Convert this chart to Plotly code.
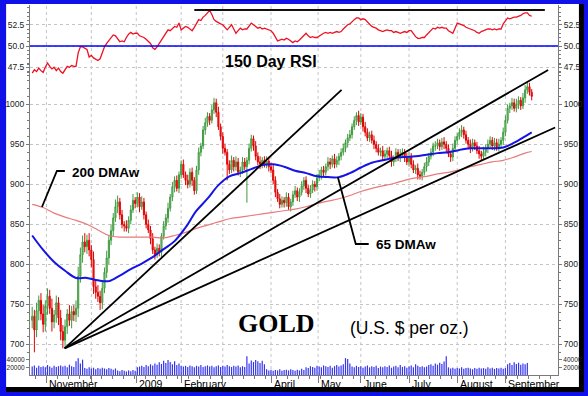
import plotly.graph_objects as go

# ---------------- data ----------------
closes = [735, 718, 742, 755, 738, 725, 748, 760, 745, 728,
          737, 752, 733, 716, 705, 722, 738, 730, 741, 737,
          745, 785, 812, 828, 822, 830, 818, 806, 772, 765,
          760, 752, 770, 790, 808, 830, 842, 858, 872, 878,
          862, 850, 848, 845, 855, 868, 880, 876, 884, 872,
          878, 862, 850, 843, 832, 818, 812, 820, 815, 835,
          848, 858, 870, 884, 897, 905, 895, 912, 925, 912,
          905, 900, 915, 905, 892, 918, 940, 948, 968, 977,
          985, 980, 993, 1002, 990, 972, 960, 945, 940, 925,
          918, 930, 922, 928, 915, 918, 928, 922, 930, 945,
          957, 948, 935, 928, 925, 930, 925, 929, 922, 918,
          905, 890, 882, 875, 880, 877, 884, 872, 878, 887,
          892, 884, 890, 898, 905, 895, 888, 893, 900, 897,
          908, 912, 918, 915, 922, 928, 925, 932, 925, 930,
          935, 940, 945, 952, 958, 962, 972, 980, 986, 978,
          984, 972, 965, 958, 962, 955, 950, 945, 940, 942,
          935, 938, 942, 936, 928, 932, 940, 934, 938, 940,
          933, 928, 935, 925, 918, 920, 912, 910, 915, 922,
          928, 935, 940, 948, 948, 952, 947, 953, 950, 945,
          938, 934, 945, 955, 960, 965, 968, 962, 955, 950,
          945, 952, 948, 942, 938, 935, 940, 945, 950, 955,
          948, 952, 946, 950, 955, 965, 980, 995, 998, 1002,
          995, 1000, 1005, 998, 1008, 1018, 1022, 1015, 1010]
first_open = 730
upper_wicks = [12, 8, 10, 6, 9, 11, 7, 10, 8, 12,
               6, 9, 7, 10, 8, 9, 6, 11, 7, 8,
               10, 12, 9, 8, 11, 7, 9, 6, 10, 8,
               9, 7, 8, 6, 9, 7, 8, 6, 9, 8,
               5, 6, 4, 7, 5, 6, 8, 4, 6, 5,
               7, 5, 4, 6, 5, 7, 4, 6, 5, 4,
               6, 5, 7, 4, 6, 5, 6, 4, 5, 6,
               4, 7, 5, 6, 4, 5, 6, 4, 5, 6,
               5, 4, 6, 6, 5, 7, 4, 5, 6, 4,
               5, 6, 4, 7, 5, 4, 6, 5, 4, 6,
               5, 4, 6, 5, 7, 4, 5, 6, 4, 5,
               6, 5, 4, 6, 5, 4, 6, 5, 4, 5,
               6, 4, 5, 6, 4, 5, 4, 6, 5, 4,
               5, 6, 4, 5, 4, 6, 5, 4, 6, 5,
               4, 5, 6, 4, 5, 6, 4, 5, 4, 6,
               5, 4, 6, 5, 4, 5, 6, 4, 5, 4,
               6, 5, 4, 5, 6, 4, 5, 4, 6, 5,
               4, 6, 5, 4, 5, 4, 6, 5, 4, 5,
               6, 4, 5, 4, 6, 5, 4, 5, 6, 4,
               5, 4, 6, 5, 4, 5, 6, 4, 5, 4,
               6, 5, 4, 5, 6, 4, 7, 5, 6, 5,
               4, 6, 5, 7, 4, 6, 6, 5, 4, 6,
               5, 7, 5, 4, 6, 6, 6, 5, 4]
lower_wicks = [10, 28, 9, 12, 8, 10, 9, 11, 7, 12,
               8, 10, 9, 11, 10, 8, 9, 7, 10, 8,
               9, 11, 8, 10, 7, 9, 8, 10, 9, 8,
               7, 9, 8, 6, 7, 8, 6, 7, 5, 8,
               6, 5, 7, 4, 6, 5, 4, 6, 5, 7,
               4, 6, 5, 4, 7, 5, 6, 4, 5, 6,
               4, 5, 6, 4, 5, 7, 4, 6, 5, 4,
               6, 5, 4, 7, 5, 4, 6, 5, 4, 6,
               5, 6, 4, 5, 6, 4, 5, 7, 4, 20,
               5, 4, 6, 5, 4, 6, 5, 4, 45, 5,
               4, 6, 5, 4, 6, 5, 4, 5, 6, 4,
               5, 6, 4, 5, 4, 6, 5, 4, 6, 5,
               4, 5, 6, 4, 5, 6, 4, 5, 4, 6,
               5, 4, 6, 5, 4, 5, 6, 4, 5, 4,
               6, 5, 4, 5, 6, 4, 5, 4, 6, 5,
               4, 6, 5, 4, 5, 4, 6, 5, 4, 5,
               6, 4, 5, 4, 6, 5, 4, 5, 6, 4,
               5, 4, 6, 5, 4, 5, 6, 4, 5, 4,
               6, 5, 4, 5, 6, 4, 5, 4, 6, 5,
               4, 6, 5, 4, 5, 4, 6, 5, 4, 5,
               6, 4, 5, 4, 6, 5, 4, 5, 6, 4,
               5, 6, 4, 5, 4, 6, 5, 4, 6, 5,
               4, 5, 6, 5, 4, 6, 5, 4, 5]
volume = [22000, 25000, 19000, 24000, 21000, 23000, 20000, 26000, 22000, 19000,
          24000, 21000, 23000, 25000, 22000, 24000, 20000, 27000, 23000, 21000,
          36000, 44000, 30000, 40000,
          18000, 16000, 20000, 17000, 19000, 15000, 18000, 16000, 19000, 17000,
          15000, 18000, 16000, 14000, 17000,
          12000, 10000, 13000, 11000, 9000, 12000, 10000, 13000, 11000,
          20000, 22000, 24000, 21000, 26000, 23000, 28000, 25000, 30000, 27000,
          33000, 29000, 37000, 31000, 39000, 34000, 28000, 36000, 26000, 30000, 24000,
          22000, 24000, 21000, 25000, 23000, 20000, 24000, 22000, 26000, 21000,
          23000, 25000, 22000, 24000, 20000, 23000, 25000, 21000, 24000, 22000,
          26000, 23000, 21000, 24000, 22000, 25000, 20000, 23000, 21000,
          49000,
          30000, 38000, 34000, 39000, 36000, 31000, 37000, 28000,
          15000, 12000, 14000, 11000, 13000, 12000, 15000, 11000, 13000, 14000,
          12000, 15000, 13000, 11000, 14000, 12000, 16000, 13000,
          20000, 18000, 23000, 21000, 19000, 24000, 22000, 20000, 25000, 23000,
          21000, 24000, 19000, 23000, 26000, 22000, 25000, 28000, 44000, 42000,
          30000, 22000, 20000, 24000, 21000, 23000, 19000, 22000, 25000, 20000,
          23000, 21000, 24000, 18000, 22000, 20000, 23000, 21000, 25000, 19000,
          22000, 24000, 20000, 26000, 21000, 23000, 19000, 22000, 25000, 20000,
          28000, 24000, 21000, 23000, 20000, 22000,
          26000, 28000, 24000, 30000, 27000, 32000, 29000, 35000, 49000,
          20000, 17000, 19000, 16000, 18000, 17000, 20000, 16000, 18000, 19000,
          17000, 15000, 18000, 16000, 19000, 17000, 18000, 16000, 20000, 17000,
          19000, 16000, 18000, 17000, 19000, 16000, 18000,
          28000, 31000, 26000, 33000, 29000, 32000, 27000, 30000, 28000, 31000,
          None, None]
rsi = [46.8, 47.2, 47.0, 47.4, 47.1, 46.9, 47.5, 48.0, 47.6, 47.3,
       47.5, 47.1, 47.4, 47.0, 46.8, 47.2, 47.6, 47.5, 47.7, 47.6,
       47.6, 49.2, 49.9, 49.9, 49.7, 49.6, 48.7, 48.9, 48.6, 48.4,
       48.3, 48.5, 49.2, 49.9, 50.3, 50.6, 50.9, 51.3, 51.2, 50.8,
       50.5, 50.6, 50.5, 51.0, 51.4, 51.6, 51.4, 51.5, 51.5, 51.2,
       51.1, 51.0, 50.8, 50.6, 50.3, 49.8, 49.6, 49.9, 50.3, 50.7,
       51.0, 51.5, 51.9, 51.8, 52.1, 52.3, 52.2, 52.7, 51.9, 52.1,
       52.3, 52.2, 52.0, 51.8, 52.2, 52.7, 53.1, 53.0, 53.4, 53.6,
       53.9, 54.2, 53.7, 53.1, 52.9, 52.7, 52.6, 52.5, 52.2, 51.9,
       52.2, 52.5, 52.0, 51.5, 51.8, 52.1, 51.9, 52.0, 52.0, 52.4,
       52.7, 52.5, 52.3, 52.1, 52.2, 52.0, 52.1, 52.0, 51.9, 51.8,
       51.5, 51.0, 50.6, 50.7, 50.8, 50.7, 50.9, 50.8, 50.6, 50.4,
       50.6, 50.5, 50.7, 51.0, 51.3, 51.5, 51.2, 51.0, 51.1, 51.0,
       51.0, 51.2, 51.4, 51.5, 51.6, 51.5, 51.6, 51.5, 51.6, 51.7,
       51.6, 51.7, 52.0, 52.3, 52.5, 52.6, 52.9, 53.1, 53.3, 53.3,
       53.1, 53.2, 53.1, 52.8, 52.6, 52.3, 52.2, 52.1, 51.9, 51.8,
       51.7, 51.8, 51.9, 51.8, 51.8, 51.6, 51.7, 51.6, 51.5, 51.6,
       51.7, 51.6, 51.8, 51.8, 51.4, 51.1, 50.9, 50.9, 51.0, 51.0,
       51.3, 51.6, 51.9, 52.1, 52.0, 52.2, 52.1, 52.2, 52.1, 52.1,
       51.8, 51.6, 51.5, 52.1, 52.7, 52.6, 52.5, 52.4, 52.2, 52.1,
       52.0, 51.9, 51.8, 51.6, 51.5, 51.7, 51.8, 51.9, 52.0, 52.0,
       51.9, 52.0, 51.9, 52.0, 52.0, 52.6, 53.0, 53.3, 53.2, 53.3,
       53.4, 53.4, 53.5, 53.6, 53.8, 53.9, 53.9, 53.6, 53.5]

ma_x = [0, 5, 10, 15, 20, 25, 30, 35, 40, 45, 50, 55, 60, 65, 70, 75, 80, 85,
        90, 95, 100, 105, 110, 115, 120, 125, 130, 135, 140, 145, 150, 155,
        160, 165, 170, 175, 180, 185, 190, 195, 200, 205, 210, 215, 220, 225, 228]
ma65 = [836, 818, 803, 792, 783, 783, 780, 779, 786, 794, 801, 809, 819, 829,
        846, 867, 882, 899, 910, 914, 919, 924, 925, 922, 917, 914, 910, 909,
        909, 914, 921, 927, 930, 933, 934, 935, 937, 939, 940, 943, 945, 945,
        945, 946, 952, 960, 965]
ma200 = [875, 871, 864, 859, 855, 850, 843, 836, 834, 834, 834, 834, 833, 836,
         840, 845, 849, 853, 857, 859, 861, 863, 865, 867, 869, 872, 876, 879,
         882, 886, 891, 895, 898, 901, 905, 908, 910, 913, 915, 918, 922, 925,
         928, 930, 934, 939, 941]

# trendlines drawn by the analyst: common start, three end points
trend_start = (14.8, 695)
trend_end_x = [141.2, 235.5, 238.7]
trend_end_y = [1018, 1043, 971]
rsi_res_x = [74, 234]
rsi_res_level = 54.24

month_ticks = [6.5, 27, 47.5, 68, 87, 109, 130.5, 150, 172, 194, 216]
month_labels = ["November", "", "2009", "February", "", "April", "May",
                "June", "July", "August", "September"]
price_ticks = [700, 750, 800, 850, 900, 950, 1000]
rsi_ticks = [47.5, 50.0, 52.5]
vol_ticks = [20000, 40000]

# ---------------- derived OHLC ----------------
n = len(closes)
days = list(range(n))
opens = [first_open] + closes[:-1]
highs = [max(o, c) + w for o, c, w in zip(opens, closes, upper_wicks)]
lows = [min(o, c) - w for o, c, w in zip(opens, closes, lower_wicks)]

TICKFONT = dict(family="Liberation Sans Narrow, Arial Narrow, Liberation Sans, Arial, sans-serif",
                size=8.5, color="#222222")
AXCOL = "#7a7a7a"
GRIDCOL = "#c4c4c4"

fig = go.Figure()

fig.add_trace(go.Candlestick(
    x=days, open=opens, high=highs, low=lows, close=closes,
    xaxis="x", yaxis="y",
    increasing=dict(line=dict(color="#3f9a3f", width=1), fillcolor="#92d092"),
    decreasing=dict(line=dict(color="#e00000", width=1), fillcolor="#ff2020"),
    whiskerwidth=0, showlegend=False, hoverinfo="skip"))

fig.add_trace(go.Scatter(x=ma_x, y=ma200, mode="lines", xaxis="x", yaxis="y",
                         line=dict(color="#e87a7a", width=1.2, shape="spline"),
                         showlegend=False, hoverinfo="skip"))
fig.add_trace(go.Scatter(x=ma_x, y=ma65, mode="lines", xaxis="x", yaxis="y",
                         line=dict(color="#1414e6", width=2, shape="spline"),
                         showlegend=False, hoverinfo="skip"))

for ex, ey in zip(trend_end_x, trend_end_y):
    fig.add_trace(go.Scatter(x=[trend_start[0], ex], y=[trend_start[1], ey],
                             mode="lines", xaxis="x", yaxis="y",
                             line=dict(color="#000000", width=1.8),
                             showlegend=False, hoverinfo="skip"))

fig.add_trace(go.Scatter(x=days, y=rsi, mode="lines", xaxis="x", yaxis="y2",
                         line=dict(color="#ee1122", width=1.3),
                         showlegend=False, hoverinfo="skip"))
fig.add_trace(go.Scatter(x=rsi_res_x, y=[rsi_res_level, rsi_res_level], mode="lines",
                         xaxis="x", yaxis="y2", line=dict(color="#111111", width=2),
                         showlegend=False, hoverinfo="skip"))

fig.add_trace(go.Bar(x=days, y=volume, xaxis="x", yaxis="y5", width=0.55,
                     marker=dict(color="#3535f0", line=dict(width=0)),
                     showlegend=False, hoverinfo="skip"))

# invisible helpers so right-hand mirror axes are drawn
for ax, val in (("y3", 50), ("y4", 900), ("y6", 20000)):
    fig.add_trace(go.Scatter(x=[0], y=[val], xaxis="x", yaxis=ax, mode="markers",
                             marker=dict(opacity=0), showlegend=False, hoverinfo="skip"))

# ---------------- layout ----------------
W, H = 588, 396
ML, MR, MT, MB = 28, 30, 5, 21
PW, PH = W - ML - MR, H - MT - MB


def px(xp):
    return (xp - ML) / PW


def py(yp):
    return (H - MB - yp) / PH


price_range = [685.4, 1055.4]
rsi_range = [45.765, 54.824]
vol_range = [0, 60000]

common_y = dict(showline=True, linecolor=AXCOL, linewidth=1, ticks="outside",
                ticklen=3, tickcolor=AXCOL, tickfont=TICKFONT, zeroline=False,
                fixedrange=True)
VOLFONT = dict(family=TICKFONT["family"], size=6.5, color="#222222")

fig.update_layout(
    width=W, height=H,
    margin=dict(l=ML, r=MR, t=MT, b=MB, pad=0),
    paper_bgcolor="#1010e8",
    plot_bgcolor="rgba(0,0,0,0)",
    showlegend=False,
    xaxis=dict(domain=[0, 1], range=[-1, 240], anchor="y5", showgrid=False,
               showline=True, linecolor=AXCOL, ticks="outside", ticklen=7,
               tickcolor=AXCOL, tickmode="array", tickvals=month_ticks,
               showticklabels=False, zeroline=False, rangeslider=dict(visible=False),
               minor=dict(tickmode="linear", tick0=month_ticks[0], dtick=5,
                          ticks="outside", ticklen=3, tickcolor=AXCOL, showgrid=False),
               fixedrange=True),
    yaxis=dict(domain=[py(356), py(60)], range=price_range, anchor="x", side="left",
               tickmode="array", tickvals=price_ticks,
               ticktext=[str(v) for v in price_ticks],
               showgrid=True, gridcolor=GRIDCOL, griddash="dot", gridwidth=1,
               minor=dict(dtick=10, ticks="outside", ticklen=2, tickcolor=AXCOL),
               **common_y),
    yaxis4=dict(overlaying="y", range=price_range, anchor="x", side="right",
                tickmode="array", tickvals=price_ticks,
                ticktext=[str(v) for v in price_ticks], showgrid=False,
                minor=dict(dtick=10, ticks="outside", ticklen=2, tickcolor=AXCOL),
                **common_y),
    yaxis2=dict(domain=[py(82), 1.0], range=rsi_range, anchor="x", side="left",
                tickmode="array", tickvals=rsi_ticks,
                ticktext=["%.1f" % v for v in rsi_ticks],
                showgrid=True, gridcolor=GRIDCOL, griddash="dot", gridwidth=1,
                minor=dict(dtick=0.5, ticks="outside", ticklen=2, tickcolor=AXCOL),
                **common_y),
    yaxis3=dict(overlaying="y2", range=rsi_range, anchor="x", side="right",
                tickmode="array", tickvals=rsi_ticks,
                ticktext=["%.1f" % v for v in rsi_ticks], showgrid=False,
                minor=dict(dtick=0.5, ticks="outside", ticklen=2, tickcolor=AXCOL),
                **common_y),
    yaxis5=dict(domain=[0, py(352)], range=vol_range, anchor="x", side="left",
                tickmode="array", tickvals=vol_ticks,
                ticktext=[str(v) for v in vol_ticks], showgrid=False,
                **{**common_y, "tickfont": VOLFONT}),
    yaxis6=dict(overlaying="y5", range=vol_range, anchor="x", side="right",
                tickmode="array", tickvals=vol_ticks,
                ticktext=[str(v) for v in vol_ticks], showgrid=False,
                **{**common_y, "tickfont": VOLFONT}),
)

shapes = [
    # black drop-shadow and white panel inside the blue frame
    dict(type="rect", xref="paper", yref="paper", x0=px(4), x1=px(584), y0=py(392),
         y1=py(4), fillcolor="#000000", line=dict(width=0), layer="below"),
    dict(type="rect", xref="paper", yref="paper", x0=px(4), x1=px(579), y0=py(387),
         y1=py(4), fillcolor="#ffffff", line=dict(width=0), layer="below"),
]
for t in month_ticks:
    shapes.append(dict(type="line", xref="x", yref="paper", x0=t, x1=t, y0=0, y1=1,
                       line=dict(color=GRIDCOL, width=1, dash="dot"), layer="below"))
shapes.append(dict(type="line", xref="paper", yref="y2", x0=0, x1=1, y0=50, y1=50,
                   line=dict(color="#0000ff", width=1.5)))
# leader lines for the moving-average labels
shapes.append(dict(type="path", xref="paper", yref="paper",
                   path="M %f,%f L %f,%f L %f,%f" % (px(63), py(171), px(55), py(171),
                                                    px(40), py(207)),
                   line=dict(color="#000000", width=1.8)))
shapes.append(dict(type="path", xref="paper", yref="paper",
                   path="M %f,%f L %f,%f L %f,%f" % (px(337), py(177), px(355), py(244),
                                                    px(368), py(244)),
                   line=dict(color="#000000", width=1.8)))
fig.update_layout(shapes=shapes)

ann = []
LAB = "Liberation Sans, Arial, sans-serif"
for t, lab in zip(month_ticks, month_labels):
    if lab:
        ann.append(dict(x=t, y=0, xref="x", yref="paper", text=lab, showarrow=False,
                        xanchor="left", yanchor="top", xshift=1, yshift=-1,
                        font=dict(family=LAB, size=10.5, color="#000000")))
ann += [
    dict(x=px(270), y=py(61.5), xref="paper", yref="paper", text="<b>150 Day RSI</b>",
         showarrow=False, xanchor="center", yanchor="middle",
         font=dict(family=LAB, size=16, color="#000000")),
    dict(x=px(275), y=py(323), xref="paper", yref="paper", text="<b>GOLD</b>",
         showarrow=False, xanchor="center", yanchor="middle",
         font=dict(family="Liberation Serif, Times New Roman, serif", size=26,
                   color="#000000")),
    dict(x=px(409), y=py(328), xref="paper", yref="paper", text="(U.S. $ per oz.)",
         showarrow=False, xanchor="center", yanchor="middle",
         font=dict(family=LAB, size=17.5, color="#000000")),
    dict(x=px(104.5), y=py(172), xref="paper", yref="paper", text="<b>200 DMAw</b>",
         showarrow=False, xanchor="center", yanchor="middle",
         font=dict(family=LAB, size=13.5, color="#000000")),
    dict(x=px(405), y=py(244), xref="paper", yref="paper", text="<b>65 DMAw</b>",
         showarrow=False, xanchor="center", yanchor="middle",
         font=dict(family=LAB, size=13.5, color="#000000")),
]
fig.update_layout(annotations=ann)

fig.write_html("out.html", config={"displayModeBar": False, "staticPlot": True},
               post_script="document.body.style.margin='0';document.body.style.padding='0';")
